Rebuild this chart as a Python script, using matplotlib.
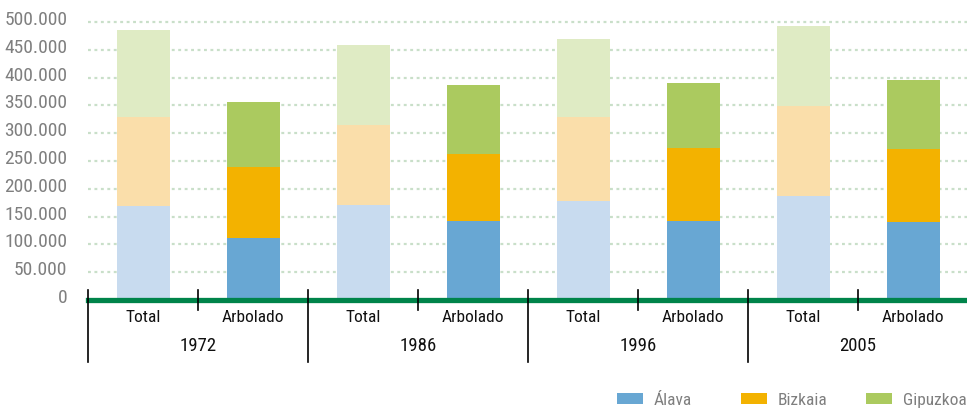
import matplotlib
matplotlib.use("Agg")
import matplotlib.pyplot as plt
import matplotlib.transforms as mtransforms
from matplotlib.patches import Patch
from matplotlib.ticker import FuncFormatter

years = ["1972", "1986", "1996", "2005"]
kinds = ["Total", "Arbolado"]
series = ["Álava", "Bizkaia", "Gipuzkoa"]
# values in hectares, order: 1972 Total, 1972 Arbolado, 1986 Total, ...
alava = [170000, 112000, 171000, 142000, 178000, 142000, 188000, 141000]
bizkaia = [159000, 127000, 143000, 121000, 151000, 132000, 161000, 131000]
gipuzkoa = [157000, 117000, 145000, 124000, 141000, 117000, 144000, 124000]
yticks = [0, 50000, 100000, 150000, 200000, 250000, 300000, 350000, 400000, 450000, 500000]

dark_colors = ["#68A7D3", "#F3B200", "#ABCA5F"]
light_colors = ["#C8DBEF", "#FADEAA", "#DFEBC4"]

FONT = ["Roboto Condensed", "Barlow Semi Condensed", "Archivo Narrow", "DejaVu Sans"]
plt.rcParams["font.family"] = FONT

W, H = 967, 411
fig = plt.figure(figsize=(W / 100, H / 100), dpi=100)

ymax = 502000
px_per = (300.1 - 22.0) / 500000
y0px = 300.1
top_px = y0px - ymax * px_per
left_px, right_px = 88, 967
ax = fig.add_axes([left_px / W, 1 - y0px / H, (right_px - left_px) / W, (y0px - top_px) / H])

n = len(alava)
xs = list(range(n))
bottoms = [0] * n
for vals, dc, lc in zip([alava, bizkaia, gipuzkoa], dark_colors, light_colors):
    cols = [lc if i % 2 == 0 else dc for i in range(n)]
    ax.bar(xs, vals, bottom=bottoms, width=53 / 110, color=cols, zorder=2, linewidth=0)
    bottoms = [b + v for b, v in zip(bottoms, vals)]

ax.set_xlim(-0.5, n - 0.5 - 1 / 110)
ax.set_ylim(0, ymax)
ax.set_yticks(yticks)
ax.yaxis.set_major_formatter(FuncFormatter(lambda v, p: f"{int(v):,}".replace(",", ".")))
ax.tick_params(axis="y", length=0, pad=15, labelsize=14, labelcolor="#7f7f7f")
shift = mtransforms.ScaledTranslation(0, 4 / 100, fig.dpi_scale_trans)
for lab in ax.get_yticklabels():
    lab.set_transform(lab.get_transform() + shift)
ax.set_xticks([])
for s in ax.spines.values():
    s.set_visible(False)

for t in yticks[1:]:
    ax.axhline(t, color="#c9dfc9", linewidth=1.6, linestyle=(0, (1.3, 1.6)), zorder=1, clip_on=False)

ax.axhline(0, color="#00844A", linewidth=3.8, zorder=3, clip_on=False)

tr = mtransforms.blended_transform_factory(ax.transData, fig.transFigure)
def fy(px):
    return 1 - px / H

# separators
for g in range(len(years) + 1):
    xb = g * 2 - 0.5
    ax.plot([xb, xb], [fy(290), fy(362)], color="black", linewidth=1.2, transform=tr, clip_on=False, zorder=4)
for g in range(len(years)):
    xm = g * 2 + 0.5
    ax.plot([xm, xm], [fy(290), fy(310)], color="black", linewidth=1.2, transform=tr, clip_on=False, zorder=4)

for i in range(n):
    ax.text(i, fy(317), kinds[i % 2], transform=tr, ha="center", va="center", fontsize=12.5, color="#111111")
for g, yr in enumerate(years):
    ax.text(g * 2 + 0.5, fy(346), yr, transform=tr, ha="center", va="center", fontsize=13.5, color="#111111")

legend_x = [617, 741, 866]
for name, c, lx in zip(series, dark_colors, legend_x):
    leg = fig.legend([Patch(facecolor=c, edgecolor="none")], [name], loc="center left",
                     bbox_to_anchor=(lx / W, fy(400)), frameon=False, fontsize=12.5,
                     handlelength=1.5, handleheight=0.63, handletextpad=0.63,
                     borderaxespad=0, borderpad=0)
    for t in leg.get_texts():
        t.set_color("#7f7f7f")

fig.savefig("out.png", dpi=100)
